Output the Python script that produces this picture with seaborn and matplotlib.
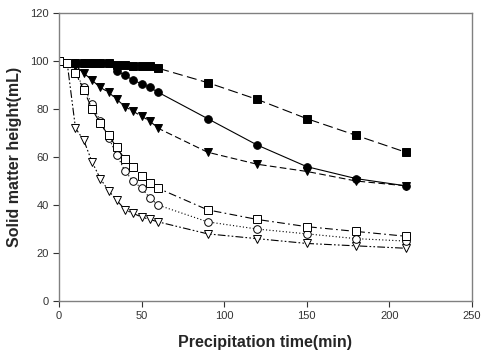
import matplotlib
matplotlib.use('Agg')
import matplotlib.pyplot as plt
import seaborn as sns

# Precipitation time (min)
time_min = [0, 5, 10, 15, 20, 25, 30, 35, 40, 45, 50, 55, 60, 90, 120, 150, 180, 210]

# solid matter height (mL) per sample
filled_square = [100, 99, 99, 99, 99, 99, 99, 98.5, 98.5, 98, 98, 98, 97, 91, 84, 76, 69, 62]
filled_circle = [100, 99, 99, 99, 99, 99, 99, 96, 94, 92, 90.5, 89, 87, 76, 65, 56, 51, 48]
filled_tri = [100, 99, 98, 95, 92, 89, 87, 84, 81, 79, 77, 75, 72, 62, 57, 54, 50, 48]
open_square = [100, 99, 95, 88, 80, 74, 69, 64, 59, 56, 52, 49, 47, 38, 34, 31, 29, 27]
open_circle = [100, 99, 95, 89, 82, 75, 68, 61, 54, 50, 47, 43, 40, 33, 30, 28, 26, 25]
open_tri = [100, 99, 72, 67, 58, 51, 46, 42, 38, 36.5, 35, 34, 33, 28, 26, 24, 23, 22]

# drawn in this order so the open squares end up on top at t=0
series = [
    (filled_square, 's', 'black', (0, (9, 4))),
    (filled_circle, 'o', 'black', '-'),
    (filled_tri, 'v', 'black', (0, (6, 3))),
    (open_tri, 'v', 'white', (0, (7, 2, 1.5, 2, 1.5, 2))),
    (open_circle, 'o', 'white', (0, (1, 2))),
    (open_square, 's', 'white', (0, (7, 3, 1.5, 3))),
]

sns.set_style('ticks')
plt.rcParams['font.family'] = ['Liberation Sans', 'DejaVu Sans']

fig = plt.figure(figsize=(4.85, 3.61), dpi=100)
ax = fig.add_axes([0.1216, 0.166, 0.8514, 0.798])

for values, mk, face, ls in series:
    sns.lineplot(x=time_min, y=values, ax=ax, color='black', linewidth=0.8,
                 linestyle=ls, marker=mk, markersize=5.5,
                 markerfacecolor=face, markeredgecolor='black', markeredgewidth=0.7)

ax.set_xlim(0, 250)
ax.set_ylim(0, 120)
ax.set_xticks(range(0, 251, 50))
ax.set_yticks(range(0, 121, 20))
ax.set_xlabel('Precipitation time(min)', fontsize=11.5, fontweight='bold', labelpad=10)
ax.set_ylabel('Solid matter height(mL)', fontsize=11.5, fontweight='bold', labelpad=6)
ax.tick_params(labelsize=8, colors='#333333', length=4, width=0.8)
for sp in ax.spines.values():
    sp.set_color('#808080')
    sp.set_linewidth(1)

fig.savefig('out.png', dpi=100)
